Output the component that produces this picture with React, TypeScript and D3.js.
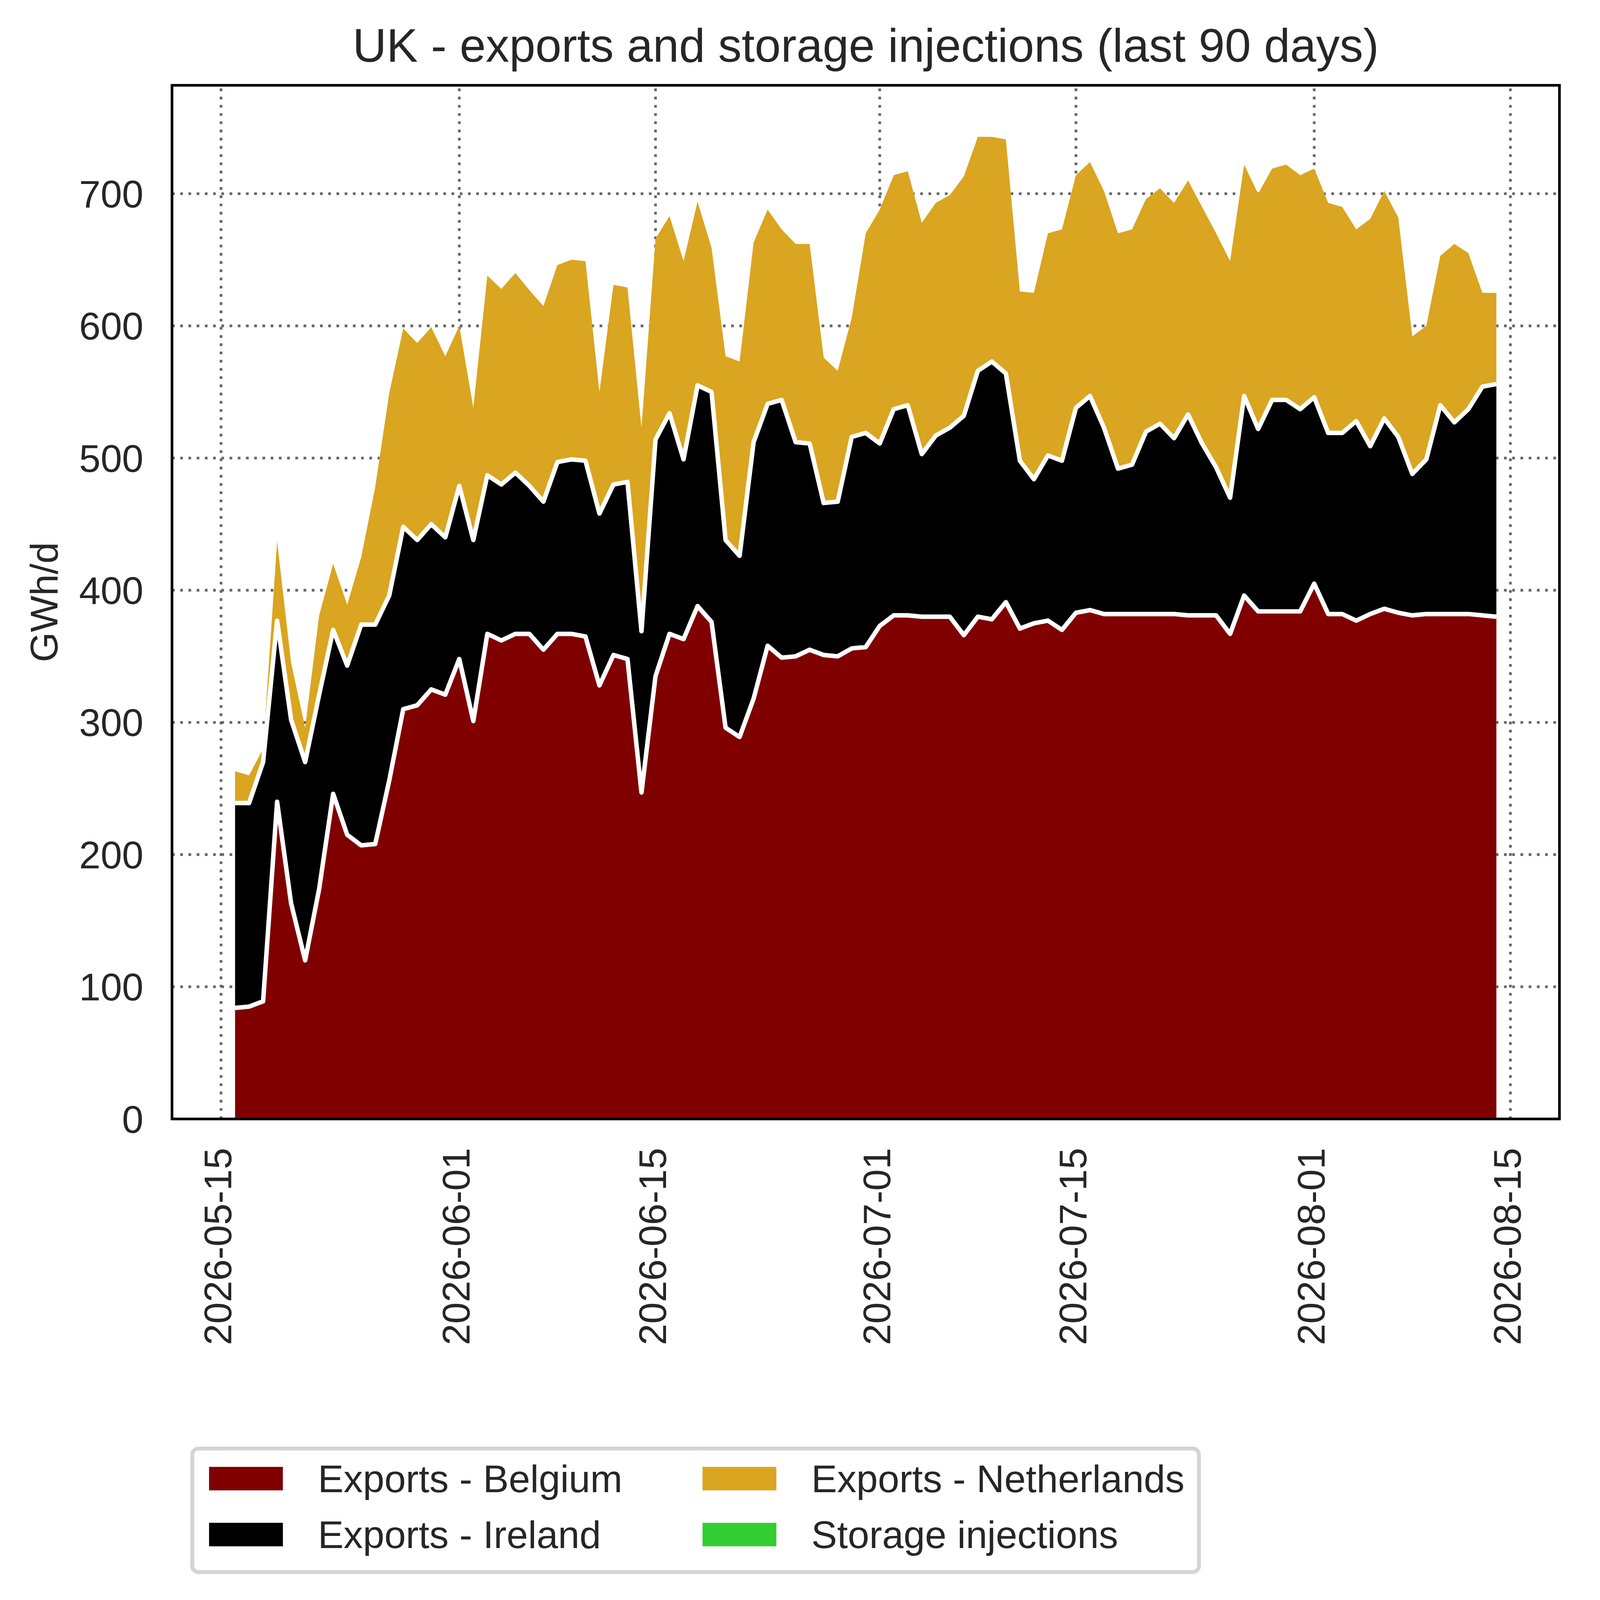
import React, { useEffect, useRef } from 'react';
import * as d3 from 'd3';

// UK gas flows, GWh/d, one value per day from 2026-05-16 to 2026-08-14
const startDate = '2026-05-16';
const endDate = '2026-08-14';

const exportsBelgium = [
  84, 85, 89, 240, 163, 120, 174, 246, 215, 207, 208, 256, 310, 313, 325, 321,
  348, 301, 367, 362, 367, 367, 355, 367, 367, 365, 328, 351, 348, 247, 335, 367,
  363, 388, 376, 296, 289, 318, 358, 349, 350, 355, 351, 350, 356, 357, 373, 381,
  381, 380, 380, 380, 366, 380, 378, 391, 371, 375, 377, 370, 383, 385, 382, 382,
  382, 382, 382, 382, 381, 381, 381, 367, 396, 384, 384, 384, 384, 405, 382, 382,
  377, 382, 386, 383, 381, 382, 382, 382, 382, 381, 380
];

const exportsIreland = [
  155, 154, 181, 137, 139, 150, 147, 124, 128, 167, 166, 140, 138, 125, 125, 119,
  131, 137, 120, 118, 122, 112, 112, 130, 132, 133, 130, 129, 134, 122, 179, 167,
  136, 167, 174, 142, 137, 194, 183, 195, 162, 156, 115, 117, 160, 162, 138, 156,
  159, 123, 137, 143, 166, 186, 195, 173, 127, 109, 125, 128, 155, 162, 141, 110,
  113, 138, 144, 133, 152, 130, 112, 103, 151, 138, 160, 160, 153, 141, 137, 137,
  151, 127, 144, 133, 107, 117, 158, 145, 155, 173, 176
];

const exportsNetherlands = [
  24, 21, 10, 60, 43, 26, 60, 50, 46, 51, 104, 153, 150, 149, 149, 137,
  121, 100, 151, 148, 151, 148, 148, 149, 151, 151, 92, 151, 147, 154, 152, 149,
  150, 139, 109, 139, 147, 151, 147, 129, 150, 151, 110, 99, 90, 151, 177, 177,
  177, 175, 176, 176, 181, 177, 170, 177, 128, 141, 168, 175, 176, 177, 179, 178,
  178, 176, 178, 178, 177, 179, 177, 179, 175, 178, 175, 178, 177, 173, 174, 171,
  145, 172, 172, 166, 104, 101, 113, 135, 118, 71, 69
];

const storageInjections = new Array(exportsBelgium.length).fill(0);

const seriesKeys = ['belgium', 'ireland', 'netherlands', 'storage'];
const seriesLabels = ['Exports - Belgium', 'Exports - Ireland', 'Exports - Netherlands', 'Storage injections'];
const seriesColors = ['#800000', '#000000', '#daa520', '#32cd32'];

const yTicks = [0, 100, 200, 300, 400, 500, 600, 700];
const xTickLabels = ['2026-05-15', '2026-06-01', '2026-06-15', '2026-07-01', '2026-07-15', '2026-08-01', '2026-08-15'];

const W = 5675;
const H = 5721;
const FONT = '"Liberation Sans", Arial, Helvetica, sans-serif';
const TEXT = '#262626';

export default function App() {
  const svgRef = useRef<SVGSVGElement>(null);

  useEffect(() => {
    if (!svgRef.current) return;
    const svg = d3.select(svgRef.current);
    svg.selectAll('*').remove();

    const plot = { left: 615, right: 5576, top: 305, bottom: 4001 };
    const parse = d3.timeParse('%Y-%m-%d');
    const first = parse(startDate) as Date;
    const last = parse(endDate) as Date;
    const dates = d3.timeDay.range(first, d3.timeDay.offset(last, 1));

    const table = dates.map((d, i) => ({
      date: d,
      belgium: exportsBelgium[i],
      ireland: exportsIreland[i],
      netherlands: exportsNetherlands[i],
      storage: storageInjections[i]
    }));

    // matplotlib-like 5% margins on x
    const x = d3
      .scaleTime()
      .domain([d3.timeHour.offset(first, -108), d3.timeHour.offset(last, 108)])
      .range([plot.left, plot.right]);

    const y = d3.scaleLinear().domain([0, 782]).range([plot.bottom, plot.top]);

    svg.append('rect').attr('width', W).attr('height', H).attr('fill', '#ffffff');

    // Gridlines
    const grid = svg.append('g')
      .attr('stroke', '#666666')
      .attr('stroke-width', 9.6)
      .attr('stroke-dasharray', '9.6 19.8')
      .attr('fill', 'none');

    grid.selectAll('.hgrid')
      .data(yTicks)
      .enter()
      .append('line')
      .attr('x1', plot.left)
      .attr('x2', plot.right)
      .attr('y1', d => y(d))
      .attr('y2', d => y(d));

    grid.selectAll('.vgrid')
      .data(xTickLabels)
      .enter()
      .append('line')
      .attr('x1', d => x(parse(d) as Date))
      .attr('x2', d => x(parse(d) as Date))
      .attr('y1', plot.bottom)
      .attr('y2', plot.top);

    // Stacked areas
    const stack = d3.stack<any>().keys(seriesKeys);
    const layers = stack(table);

    const area = d3
      .area<any>()
      .x(d => x(d.data.date))
      .y0(d => y(d[0]))
      .y1(d => y(d[1]));

    svg.append('g')
      .selectAll('path')
      .data(layers)
      .enter()
      .append('path')
      .attr('d', area as any)
      .attr('fill', (_, i) => seriesColors[i]);

    // White separators on top of Belgium and Ireland
    const topLine = d3
      .line<any>()
      .x(d => x(d.data.date))
      .y(d => y(d[1]));

    svg.append('g')
      .selectAll('path')
      .data(layers.slice(0, 2))
      .enter()
      .append('path')
      .attr('d', topLine as any)
      .attr('fill', 'none')
      .attr('stroke', '#ffffff')
      .attr('stroke-width', 16)
      .attr('stroke-linejoin', 'round');

    // Frame
    svg.append('rect')
      .attr('x', plot.left)
      .attr('y', plot.top)
      .attr('width', plot.right - plot.left)
      .attr('height', plot.bottom - plot.top)
      .attr('fill', 'none')
      .attr('stroke', '#000000')
      .attr('stroke-width', 9.5);

    // Y tick labels
    svg.append('g')
      .selectAll('text')
      .data(yTicks)
      .enter()
      .append('text')
      .attr('x', 513)
      .attr('y', d => y(d) + 49)
      .attr('text-anchor', 'end')
      .attr('font-family', FONT)
      .attr('font-size', 138)
      .attr('fill', TEXT)
      .text(d => String(d));

    // X tick labels, rotated
    svg.append('g')
      .selectAll('text')
      .data(xTickLabels)
      .enter()
      .append('text')
      .attr('transform', d => `translate(${x(parse(d) as Date) + 37},4104) rotate(-90)`)
      .attr('text-anchor', 'end')
      .attr('font-family', FONT)
      .attr('font-size', 138)
      .attr('fill', TEXT)
      .text(d => d);

    // Title and axis label
    svg.append('text')
      .attr('x', (plot.left + plot.right) / 2)
      .attr('y', 221)
      .attr('text-anchor', 'middle')
      .attr('font-family', FONT)
      .attr('font-size', 168)
      .attr('fill', TEXT)
      .text('UK - exports and storage injections (last 90 days)');

    svg.append('text')
      .attr('transform', `translate(205,${(plot.top + plot.bottom) / 2}) rotate(-90)`)
      .attr('text-anchor', 'middle')
      .attr('font-family', FONT)
      .attr('font-size', 138)
      .attr('fill', TEXT)
      .text('GWh/d');

    // Legend, two columns
    const legend = svg.append('g');
    legend.append('rect')
      .attr('x', 687.5)
      .attr('y', 5179.5)
      .attr('width', 4287 - 687.5)
      .attr('height', 5621 - 5179.5)
      .attr('rx', 22)
      .attr('fill', '#ffffff')
      .attr('stroke', '#d4d4d4')
      .attr('stroke-width', 14);

    const colX = [747.5, 2512];
    const rowY = [5245, 5445];
    seriesLabels.forEach((label, i) => {
      const col = i < 2 ? 0 : 1;
      const row = i % 2;
      legend.append('rect')
        .attr('x', colX[col])
        .attr('y', rowY[row])
        .attr('width', 264)
        .attr('height', 84)
        .attr('fill', seriesColors[i]);
      legend.append('text')
        .attr('x', colX[col] + 389)
        .attr('y', rowY[row] + 90)
        .attr('font-family', FONT)
        .attr('font-size', 138)
        .attr('fill', TEXT)
        .text(label);
    });
  }, []);

  return (
    <svg
      ref={svgRef}
      viewBox={`0 0 ${W} ${H}`}
      preserveAspectRatio="xMinYMin meet"
      style={{ position: 'absolute', left: 0, top: 0, width: '100vw', height: '100vh', display: 'block' }}
    />
  );
}
